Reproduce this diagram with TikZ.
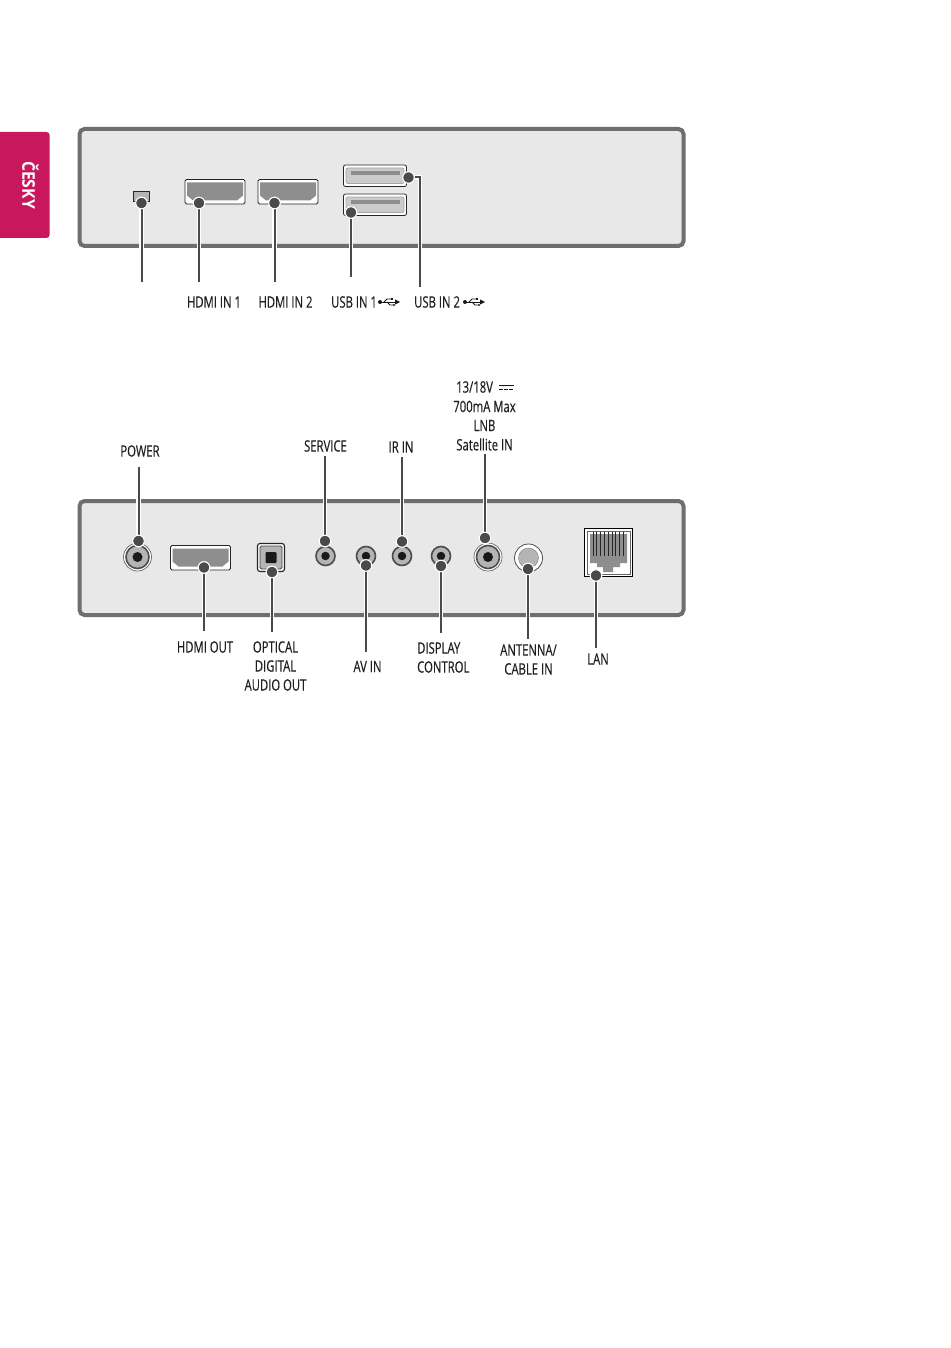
\documentclass[tikz,border=0pt]{standalone}
\usepackage{fontspec}
\setmainfont{Open Sans}[FakeStretch=0.72,FakeBold=0.35]
\newfontfamily\tabfont{Open Sans}[FakeStretch=0.9]
\definecolor{tabred}{HTML}{C8175D}
\definecolor{panelfill}{HTML}{E8E8E8}
\definecolor{panelline}{HTML}{6E6E6E}
\definecolor{leader}{HTML}{4A4A4A}
\definecolor{portgrey}{HTML}{8E8E8E}
\definecolor{jackgrey}{HTML}{B4B4B4}
\tikzset{
  x=1pt,y=-1pt,
  panel/.style={draw=panelline,fill=panelfill,line width=4pt,rounded corners=5pt},
  lbl/.style={font=\fontsize{15.7}{19}\selectfont,text=black!88,align=center,inner sep=0pt},
  dotnode/.style={circle,fill=leader,draw=white,line width=1pt,minimum size=11.5pt,inner sep=0pt},
  halo/.style={draw=white,line width=4.2pt},
  lead/.style={draw=leader,line width=2pt},
  plate/.style={draw=black!85,fill=white,line width=.8pt,rounded corners=1.5pt},
  jackring/.style={circle,fill=jackgrey,draw=black!70,line width=1.6pt,minimum size=19pt,inner sep=0pt},
  jackcore/.style={circle,fill=black!90,minimum size=8.5pt,inner sep=0pt},
  bigring/.style={circle,fill=white,draw=black!60,line width=.7pt,minimum size=28pt,inner sep=0pt},
  sym/.style={draw=black!90,line width=.9pt},
  pics/usbsym/.style={code={
    \fill[black!90] (0,0) circle (2);
    \draw[sym] (0,0) -- (16,0);
    \fill[black!90] (20,0) -- (15,-2.6) -- (15,2.6) -- cycle;
    \draw[sym] (4,0) -- (7,-3) -- (11,-3);
    \draw[sym] (7,0) -- (10,3) -- (13,3);
    \fill[black!90] (11,-4) rectangle (13,-2);
    \fill[black!90] (14,3) circle (1.2);
  }},
  pics/hdmiport/.style={code={
    \draw[plate] (0,0) rectangle (60,24.5);
    \fill[portgrey] (2,3) -- (58,3) -- (58,16) -- (52,21) -- (8,21) -- (2,16) -- cycle;
  }},
  pics/usbport/.style={code={
    \draw[plate,fill=white,rounded corners=2pt] (0,0) rectangle (63,21.5);
    \draw[draw=black!35,fill=jackgrey!70,line width=.8pt,rounded corners=2pt] (2.5,3) rectangle (60.5,18.5);
    \draw[portgrey,line width=4pt] (7,8) -- (56,8);
  }}
}
\begin{document}
\begin{tikzpicture}
\useasboundingbox (0,0) rectangle (950,1348);
% side tab
\fill[tabred,rounded corners=3pt] (-6,132) rectangle (49.5,238);
\fill[tabred] (-1,132) rectangle (10,238);
\node[rotate=-90,text=white,inner sep=0pt,font=\tabfont\fontsize{17.5}{18}\selectfont\bfseries] (tab) at (30.5,185) {ČESKY};
% panels
\draw[panel] (79.5,129) rectangle (683.5,246);
\draw[panel] (79.5,501) rectangle (683.5,615);

% ---- upper panel ports
\draw[draw=black!85,fill=jackgrey,line width=.9pt] (133.5,191.5) rectangle (149.5,201);
\pic at (185,179.5) {hdmiport};
\pic at (258,179.5) {hdmiport};
\pic at (343.5,165) {usbport};
\pic at (343.5,194) {usbport};

% ---- lower panel ports
\node[bigring] (powring) at (137.5,557) {};
\node[jackring,minimum size=23pt] (powjack) at (137.5,557) {};
\node[jackcore,minimum size=10pt] (powcore) at (137.5,557) {};
\pic at (170.5,545.5) {hdmiport};
\draw[draw=black!85,fill=white,line width=1.1pt,rounded corners=2.5pt] (257.5,543.5) rectangle (284.5,571.5);
\draw[draw=black!75,fill=jackgrey,line width=.8pt,rounded corners=1.5pt] (260,546) rectangle (282,569);
\fill[black!90,rounded corners=1pt] (265.5,552) rectangle (276.5,563);
\foreach \n/\cx in {svc/325.5,av/366,ir/402,disp/441}{
  \node[jackring] (\n jack) at (\cx,556) {};
  \node[jackcore] (\n core) at (\cx,556) {};
}
\node[bigring] (lnbring) at (488,557) {};
\node[jackring,minimum size=23pt] (lnbjack) at (488,557) {};
\node[jackcore,minimum size=10pt] (lnbcore) at (488,557) {};
\node[circle,fill=white,draw=black!70,line width=.8pt,minimum size=28pt,inner sep=0pt] (antring) at (528.5,558) {};
\node[circle,fill=jackgrey,draw=black!45,line width=.5pt,minimum size=20pt,inner sep=0pt] (antcore) at (528.5,558) {};
% LAN
\draw[draw=black,fill=white,line width=1pt] (584.5,528.5) rectangle (632.5,576.5);
\draw[draw=black!60,line width=.8pt] (587,531) rectangle (630,574);
\fill[portgrey] (590,534) -- (627,534) -- (627,563) -- (620,563) -- (620,567) -- (613,567) -- (613,572) -- (603,572) -- (603,567) -- (597,567) -- (597,563) -- (590,563) -- cycle;
\foreach \i in {0,...,8}{
  \draw[draw=black!85,line width=.9pt] ({593+3.8*\i},532) -- ({593+3.8*\i},556);
}

% ---- labels
\node[lbl] (lhdmi1) at (214,302) {HDMI IN 1};
\node[lbl] (lhdmi2) at (285.5,302) {HDMI IN 2};
\node[lbl,anchor=west] (lusb1) at (331,302) {USB IN 1};
\node[lbl,anchor=west] (lusb2) at (414,302) {USB IN 2};
\pic at (380,302) {usbsym};
\pic at (465,302) {usbsym};
\node[lbl] (lpower) at (140,451) {POWER};
\node[lbl] (lsvc) at (325.5,446) {SERVICE};
\node[lbl] (lir) at (401,447) {IR IN};
\node[lbl,anchor=west] (l13) at (456,387) {13/18V};
\node[lbl] (l700) at (484.5,406.5) {700mA Max};
\node[lbl] (llnb) at (484.5,425.5) {LNB};
\node[lbl] (lsat) at (484.5,444.5) {Satellite IN};
\draw[sym,line width=1.8pt] (499,385.5) -- (513.5,385.5);
\draw[sym,line width=1.8pt,dash pattern=on 3.6pt off 1.6pt] (499,389.5) -- (513.5,389.5);
\node[lbl] (lhout) at (205,647) {HDMI OUT};
\node[lbl] (lopt) at (275.5,666) {OPTICAL\\DIGITAL\\AUDIO OUT};
\node[lbl] (lav) at (367.5,666.5) {AV IN};
\node[lbl,align=left,anchor=west] (ldisp) at (417,657.5) {DISPLAY\\CONTROL};
\node[lbl] (lant) at (528.5,659.5) {ANTENNA/\\CABLE IN};
\node[lbl] (llan) at (598,659) {LAN};

% ---- leader ends
\coordinate (e1) at (141.5,282);
\coordinate (e2) at (199,282);
\coordinate (e3) at (274.5,282);
\coordinate (e4) at (351,277);
\coordinate (e5) at (420,287);
\coordinate (e6) at (138.5,467);
\coordinate (e7) at (325,456);
\coordinate (e8) at (402,457);
\coordinate (e9) at (485,454);
\coordinate (e10) at (204,631);
\coordinate (e11) at (272,632);
\coordinate (e12) at (366,652);
\coordinate (e13) at (441,633);
\coordinate (e14) at (528,639);
\coordinate (e15) at (596,648);

% ---- leader dots
\node[dotnode] (d1) at (141.5,203) {};
\node[dotnode] (d2) at (199,203) {};
\node[dotnode] (d3) at (274.5,203) {};
\node[dotnode] (d4) at (351,212.5) {};
\node[dotnode] (d5) at (408.5,177.5) {};
\node[dotnode] (d6) at (138.5,541) {};
\node[dotnode] (d7) at (325,541) {};
\node[dotnode] (d8) at (402,541.5) {};
\node[dotnode] (d9) at (485,538) {};
\node[dotnode] (d10) at (204,567.5) {};
\node[dotnode] (d11) at (272,572) {};
\node[dotnode] (d12) at (366,565.5) {};
\node[dotnode] (d13) at (441,566) {};
\node[dotnode] (d14) at (528,569) {};
\node[dotnode] (d15) at (596,575.5) {};

% ---- leaders with white casing, then core
\foreach \d/\e in {d1/e1,d2/e2,d3/e3,d4/e4,d6/e6,d7/e7,d8/e8,d9/e9,d10/e10,d11/e11,d12/e12,d13/e13,d14/e14,d15/e15}{
  \draw[halo] (\d) -- (\e);
  \draw[lead] (\d) -- (\e);
}
\draw[halo] (d5) -- (d5 -| e5) -- (e5);
\draw[lead] (d5) -- (d5 -| e5) -- (e5);
\foreach \d in {1,...,15}{ \node[dotnode] at (d\d) {}; }
\end{tikzpicture}
\end{document}
